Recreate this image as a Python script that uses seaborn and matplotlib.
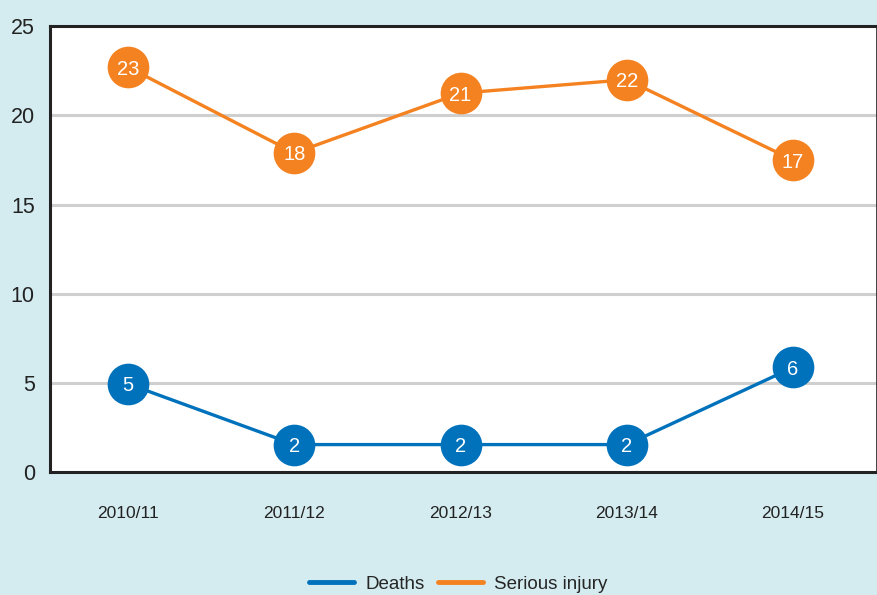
import numpy as np
import pandas as pd
import matplotlib.pyplot as plt
from matplotlib.lines import Line2D
import seaborn as sns

# data (plotted position vs. printed label)
years = ["2010/11", "2011/12", "2012/13", "2013/14", "2014/15"]
deaths_values = [4.96, 1.56, 1.56, 1.56, 5.88]
deaths_labels = [5, 2, 2, 2, 6]
injury_values = [22.7, 17.9, 21.25, 22.0, 17.5]
injury_labels = [23, 18, 21, 22, 17]
series_names = ["Deaths", "Serious injury"]
y_ticks = [0, 5, 10, 15, 20, 25]

blue = "#0072bc"
orange = "#f58220"
bg = "#d4ecf0"

df = pd.DataFrame({
    "year": years * 2,
    "x": list(range(len(years))) * 2,
    "value": deaths_values + injury_values,
    "label": deaths_labels + injury_labels,
    "series": [series_names[0]] * len(years) + [series_names[1]] * len(years),
})

sns.set_theme(style="white")
plt.rcParams["font.family"] = ["Liberation Sans", "DejaVu Sans"]

fig = plt.figure(figsize=(8.78, 5.95), dpi=100, facecolor=bg)
ax = fig.add_axes([0.057, 0.206, 0.942, 0.750])
ax.set_facecolor("white")

palette = {series_names[0]: blue, series_names[1]: orange}
sns.lineplot(data=df, x="x", y="value", hue="series", palette=palette,
             marker="o", markersize=30, markeredgewidth=0, linewidth=2.4,
             ax=ax, legend=False, zorder=3)

for _, r in df.iterrows():
    ax.text(r["x"], r["value"], str(r["label"]), ha="center", va="center_baseline",
            color="white", fontsize=14.5, zorder=5)

ax.set_ylim(0, 25)
ax.set_xlim(-0.47, 4.506)
ax.set_yticks(y_ticks)
ax.set_yticklabels([str(t) for t in y_ticks], fontsize=15.5, color="#222222")
ax.set_xticks(range(len(years)))
ax.set_xticklabels(years, fontsize=12.5, color="#222222")
ax.tick_params(axis="x", length=0, pad=24)
ax.tick_params(axis="y", length=0, pad=11)
ax.set_xlabel("")
ax.set_ylabel("")

for y in y_ticks[1:-1]:
    ax.axhline(y, color="#cfcfcf", linewidth=2.2, zorder=1)

for side in ["left", "bottom", "top"]:
    ax.spines[side].set_color("#222222")
    ax.spines[side].set_linewidth(2.2)
ax.spines["right"].set_color("#222222")
ax.spines["right"].set_linewidth(1.2)

handles = [Line2D([0], [0], color=blue, linewidth=3.5),
           Line2D([0], [0], color=orange, linewidth=3.5)]
fig.legend(handles, series_names, loc="center", bbox_to_anchor=(0.522, 0.018),
           ncol=2, frameon=False, fontsize=13.5, handlelength=2.4,
           columnspacing=0.7, handletextpad=0.6)

plt.savefig("out.png", dpi=100, facecolor=bg)
plt.close()
